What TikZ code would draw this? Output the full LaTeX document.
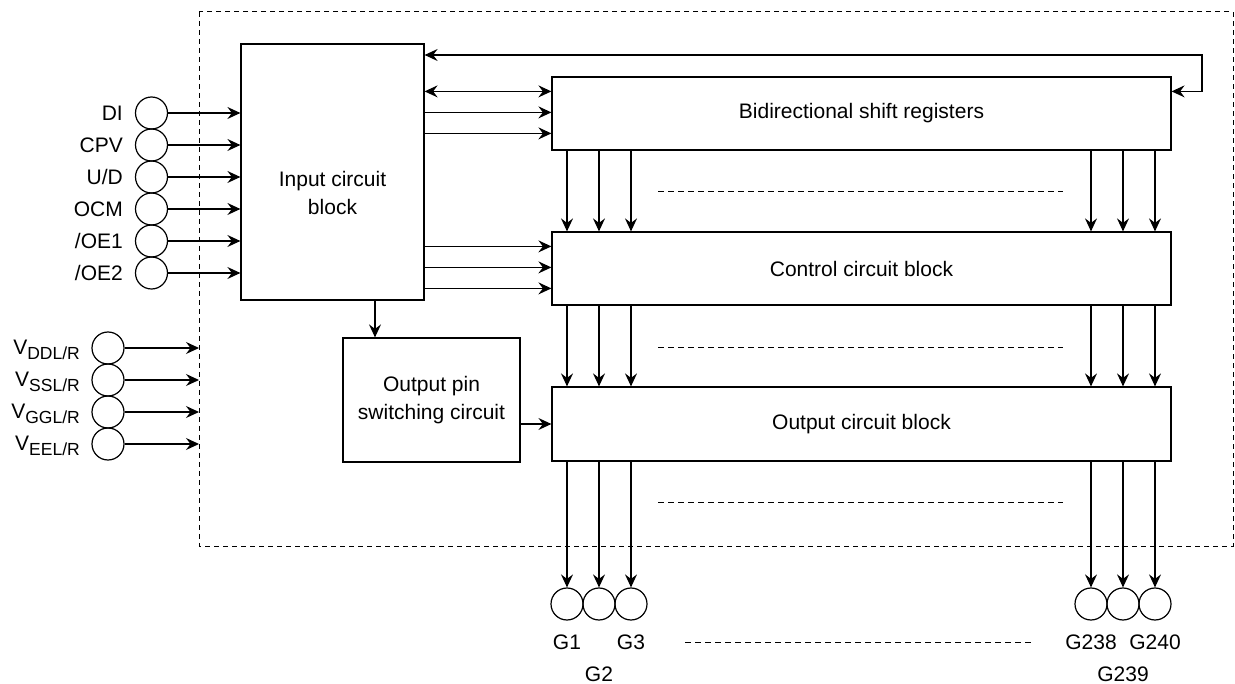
\documentclass[tikz,border=0pt]{standalone}
\usepackage{fontspec}
\setmainfont{Liberation Sans}
\usetikzlibrary{arrows.meta,calc}
\begin{document}
\begin{tikzpicture}[x=1pt,y=-1pt, line width=1.2pt,
  font=\fontsize{21}{28}\selectfont,
  every node/.style={inner sep=0pt},
  box/.style={draw, rectangle},
  pin/.style={draw, circle, minimum size=32pt},
  lbl/.style={anchor=east},
  tip/.tip={Stealth[length=13pt,width=12pt,inset=4.5pt]},
  arr/.style={-tip},
  darr/.style={tip-tip},
  dots/.style={dash pattern=on 6pt off 4pt, line width=1pt},
  frame/.style={dash pattern=on 5pt off 4pt, line width=1pt}]
\useasboundingbox (0,0) rectangle (1235,684);

% outer frame
\draw[frame] (199,12) rectangle (1233,546);
\coordinate (fl) at (199,12);

% blocks
\node[box, minimum width=183pt, minimum height=256pt] (in) at (332.5,172) {};
\node[align=center] (intext) at (332.5,193) {Input circuit\\block};
\node[box, minimum width=619pt, minimum height=73pt] (sr) at (861.5,113.5) {Bidirectional shift registers};
\node[box, minimum width=619pt, minimum height=73pt] (cc) at (861.5,268.5) {Control circuit block};
\node[box, minimum width=619pt, minimum height=74pt] (oc) at (861.5,424) {Output circuit block};
\node[box, minimum width=177pt, minimum height=124pt, align=center] (ops) at (431.5,400) {Output pin\\switching circuit};

% input pins
\foreach \n/\t/\y in {di/DI/113, cpv/CPV/145, ud/U\slash D/177, ocm/OCM/209, oea/\slash OE1/241, oeb/\slash OE2/273}{
  \node[pin] (\n) at (151.5,\y) {};
  \node[lbl] (l\n) at ($(\n.west)+(-11.5,0)$) {\t};
  \draw[arr] (\n) -- (\n -| in.west);
}

% supply pins
\foreach \n/\s/\y in {vdd/DDL/348, vss/SSL/380, vgg/GGL/412, vee/EEL/444}{
  \node[pin] (\n) at (108,\y) {};
  \node[lbl] (l\n) at ($(\n.west)+(-11,2)$) {V\raisebox{-5pt}{\fontsize{17.5}{18}\selectfont\s/R}};
  \draw[arr] (\n) -- (\n -| fl);
}

% output pins
\foreach \n/\x in {g1/567, g2/599, g3/631, gA/1091, gB/1123, gC/1155}{
  \node[pin] (\n) at (\x,604) {};
  \draw[arr] (\n |- sr.south) -- (\n |- cc.north);
  \draw[arr] (\n |- cc.south) -- (\n |- oc.north);
  \draw[arr] (\n |- oc.south) -- (\n.north);
}
\node (lg1) at (567,642) {G1};
\node (lg3) at (631,642) {G3};
\node (lg2) at (599,674) {G2};
\node (lgA) at (1091,642) {G238};
\node (lgC) at (1155,642) {G240};
\node (lgB) at (1123,674) {G239};

% dotted continuation lines
\draw[dots] (658,192) -- (1063,192);
\draw[dots] (658,348) -- (1063,348);
\draw[dots] (658,503) -- (1063,503);
\draw[dots] (685,642) -- (1031,642);

% input block to registers / control
\coordinate (r1) at ($(in.north east)+(0,48)$);
\coordinate (r2) at ($(in.north east)+(0,69)$);
\coordinate (r3) at ($(in.north east)+(0,90)$);
\coordinate (c1) at ($(in.north east)+(0,203)$);
\coordinate (c2) at ($(in.north east)+(0,224)$);
\coordinate (c3) at ($(in.north east)+(0,245)$);
\draw[darr] (r1) -- (r1 -| sr.west);
\draw[arr] (r2) -- (r2 -| sr.west);
\draw[arr] (r3) -- (r3 -| sr.west);
\draw[arr] (c1) -- (c1 -| cc.west);
\draw[arr] (c2) -- (c2 -| cc.west);
\draw[arr] (c3) -- (c3 -| cc.west);

% feedback loop
\coordinate (fb) at (1202,55);
\draw[darr] (in.east |- fb) -- (fb) |- (sr.east |- r1);

% input block to output pin switching, and on to output block
\coordinate (d1) at (375,300);
\draw[arr] (in.south -| d1) -- (ops.north -| d1);
\draw[arr] (ops.east |- oc.west) -- (oc.west);
\end{tikzpicture}
\end{document}
